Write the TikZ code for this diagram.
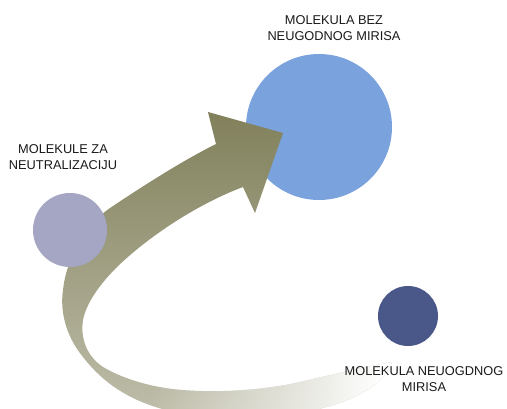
\documentclass[tikz,border=0pt]{standalone}
\usepackage{fontspec}
\setmainfont{Liberation Sans}
\usetikzlibrary{fadings}
\definecolor{bigblue}{HTML}{7AA2DC}
\definecolor{greymol}{HTML}{A4A6C4}
\definecolor{darkmol}{HTML}{4A5889}
\definecolor{olive}{HTML}{7F7E58}
\definecolor{txt}{HTML}{1A1A1A}
\tikzfading[name=faderight, left color=transparent!100, right color=transparent!0]
\begin{document}
\begin{tikzpicture}[x=1pt,y=-1pt,
  mol/.style={circle, inner sep=0pt, draw=none},
  lbl/.style={align=center, text=txt, inner sep=0pt, font=\fontsize{12.8}{16}\selectfont}]
\useasboundingbox (0,0) rectangle (507,408);
\fill[white] (0,0) rectangle (507,408);
% big blue molecule
\node[mol, fill=bigblue, minimum size=146pt] (big) at (319,127) {};
% curved arrow band
\begin{scope}
\clip (0,0) rectangle (507,408);
\clip (283,133) -- (255,213) -- (243,187)
  .. controls (200,203) and (150,235) .. (117,267)
  .. controls (97,287) and (86,305) .. (83,320)
  .. controls (80,340) and (88,357) .. (103,367)
  .. controls (125,380) and (155,388) .. (183,390)
  .. controls (220,393) and (265,390) .. (300,382)
  .. controls (335,374) and (370,366) .. (392,362)
  .. controls (380,395) and (320,420) .. (220,418)
  .. controls (150,414) and (110,392) .. (83,357)
  .. controls (65,335) and (60,310) .. (63,290)
  .. controls (66,260) and (85,225) .. (110,208)
  .. controls (140,188) and (180,162) .. (216,144)
  -- (208,112) -- cycle;
\shade[top color=olive, middle color=olive!95!white, bottom color=olive!50!white] (40,100) rectangle (420,420);
\fill[white, path fading=faderight] (150,340) rectangle (380,420);
\fill[white] (379,340) rectangle (420,420);
\end{scope}
% molecules
\node[mol, fill=greymol, minimum size=74pt] (grey) at (70,230) {};
\node[mol, fill=darkmol, minimum size=60pt] (dark) at (408,316) {};
% labels
\node[lbl] (tbig) at (334,28) {MOLEKULA BEZ\\NEUGODNOG MIRISA};
\node[lbl] (tgrey) at (63,157) {MOLEKULE ZA\\NEUTRALIZACIJU};
\node[lbl] (tdark) at (424,379) {MOLEKULA NEUOGDNOG\\MIRISA};
\end{tikzpicture}
\end{document}
